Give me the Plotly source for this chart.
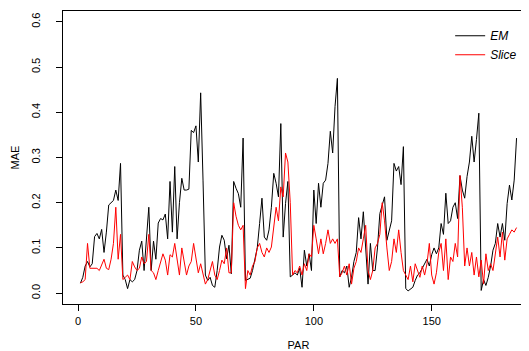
import plotly.graph_objects as go

# ---- data ----
par = list(range(1, 187))

em = [
    0.022, 0.035, 0.06, 0.07, 0.058, 0.065, 0.125, 0.132, 0.12, 0.141,
    0.09, 0.135, 0.195, 0.2, 0.205, 0.228, 0.205, 0.287, 0.04, 0.03,
    0.01, 0.03, 0.025, 0.03, 0.05, 0.095, 0.115, 0.05, 0.12, 0.19,
    0.05, 0.115, 0.075, 0.155, 0.165, 0.162, 0.175, 0.12, 0.247, 0.135,
    0.28, 0.12, 0.2, 0.254, 0.228, 0.228, 0.23, 0.36, 0.355, 0.37,
    0.29, 0.443, 0.25, 0.04, 0.028, 0.035, 0.017, 0.013, 0.05, 0.102,
    0.128, 0.117, 0.076, 0.106, 0.043, 0.247, 0.232, 0.22, 0.19, 0.343,
    0.028, 0.03, 0.033, 0.05, 0.073, 0.1, 0.154, 0.21, 0.124, 0.117,
    0.14, 0.19, 0.265, 0.243, 0.213, 0.375, 0.124, 0.198, 0.247, 0.036,
    0.04, 0.045, 0.04, 0.055, 0.013, 0.095, 0.06, 0.087, 0.05, 0.228,
    0.154, 0.243, 0.19, 0.243, 0.25, 0.287, 0.358, 0.31, 0.413, 0.475,
    0.036, 0.05, 0.045, 0.06, 0.013, 0.035, 0.07, 0.09, 0.167, 0.12,
    0.18, 0.1, 0.02, 0.11, 0.05, 0.05, 0.1, 0.176, 0.198, 0.213,
    0.117, 0.14, 0.16, 0.287, 0.27, 0.28, 0.24, 0.324, 0.01, 0.005,
    0.009, 0.013, 0.028, 0.04, 0.045, 0.055, 0.062, 0.075, 0.06, 0.085,
    0.1, 0.087, 0.1, 0.154, 0.13, 0.221, 0.154, 0.16, 0.19, 0.2,
    0.165, 0.26, 0.228, 0.21, 0.258, 0.29, 0.347, 0.29, 0.34, 0.398,
    0.006, 0.03, 0.017, 0.035, 0.06, 0.095, 0.11, 0.154, 0.124, 0.154,
    0.117, 0.198, 0.239, 0.206, 0.25, 0.343,
]

slice_ = [
    0.023, 0.025, 0.03, 0.11, 0.055, 0.055, 0.055, 0.055, 0.05, 0.065,
    0.075, 0.055, 0.052, 0.075, 0.11, 0.19, 0.075, 0.13, 0.03, 0.035,
    0.04, 0.03, 0.07, 0.058, 0.05, 0.055, 0.08, 0.065, 0.07, 0.13,
    0.05, 0.045, 0.03, 0.05, 0.07, 0.087, 0.073, 0.04, 0.085, 0.08,
    0.11, 0.07, 0.04, 0.1, 0.07, 0.04, 0.06, 0.07, 0.11, 0.075,
    0.045, 0.065, 0.045, 0.02, 0.03, 0.05, 0.07, 0.04, 0.03, 0.05,
    0.073, 0.065, 0.1, 0.045, 0.045, 0.2, 0.17, 0.15, 0.14, 0.15,
    0.01, 0.05, 0.04, 0.06, 0.07, 0.1, 0.11, 0.09, 0.08, 0.1,
    0.09, 0.102, 0.147, 0.19, 0.16, 0.235, 0.213, 0.31, 0.29, 0.2,
    0.04, 0.05, 0.045, 0.06, 0.04, 0.065, 0.05, 0.087, 0.08, 0.15,
    0.12, 0.087, 0.12, 0.087, 0.11, 0.14, 0.11, 0.12, 0.11, 0.12,
    0.036, 0.045, 0.06, 0.04, 0.065, 0.02, 0.055, 0.07, 0.1, 0.09,
    0.12, 0.15, 0.05, 0.03, 0.05, 0.1, 0.11, 0.13, 0.2, 0.16,
    0.1, 0.05, 0.07, 0.12, 0.09, 0.14, 0.09, 0.05, 0.04, 0.03,
    0.06, 0.025, 0.065, 0.05, 0.035, 0.06, 0.04, 0.065, 0.11, 0.04,
    0.02, 0.045, 0.09, 0.11, 0.05, 0.12, 0.03, 0.08, 0.07, 0.11,
    0.08, 0.26, 0.19, 0.06, 0.1, 0.06, 0.09, 0.04, 0.08, 0.036,
    0.073, 0.02, 0.087, 0.05, 0.065, 0.05, 0.087, 0.124, 0.08, 0.135,
    0.073, 0.12, 0.13, 0.14, 0.135, 0.145,
]

x_ticks = [0, 50, 100, 150]
y_ticks = [0.0, 0.1, 0.2, 0.3, 0.4, 0.5, 0.6]
series_names = ["EM", "Slice"]
series_colors = ["#000000", "#ff0000"]

font_family = "Liberation Sans, Arial, sans-serif"

fig = go.Figure()
for name, vals, col in zip(series_names, [em, slice_], series_colors):
    fig.add_trace(go.Scatter(
        x=par, y=vals, mode="lines", name="<i>%s</i>" % name,
        line=dict(color=col, width=1),
    ))

n = len(par)
xpad = (n - 1) * 0.04
ypad = 0.6 * 0.04

axis_common = dict(
    showline=True, linecolor="black", linewidth=1, mirror=True,
    ticks="outside", ticklen=6, tickcolor="black", tickwidth=1,
    showgrid=False, zeroline=False, automargin=False,
    tickfont=dict(family=font_family, size=11, color="black"),
)

fig.update_layout(
    template="none",
    width=529, height=351,
    margin=dict(l=55, r=3, t=3, b=55),
    paper_bgcolor="white", plot_bgcolor="white",
    font=dict(family=font_family, size=11, color="black"),
    xaxis=dict(
        range=[1 - xpad, n + xpad], tickvals=x_ticks,
        ticklabelstandoff=1,
        title=dict(text="PAR", standoff=15,
                   font=dict(family=font_family, size=11, color="black")),
        **axis_common,
    ),
    yaxis=dict(
        range=[0 - ypad, 0.6 + ypad], tickvals=y_ticks, tickformat=".1f",
        tickangle=-90, ticklabelstandoff=12,
        title=dict(text="MAE", standoff=7,
                   font=dict(family=font_family, size=11, color="black")),
        **axis_common,
    ),
    showlegend=True,
    legend=dict(
        x=0.822, y=0.965, xanchor="left", yanchor="top",
        bgcolor="rgba(0,0,0,0)", borderwidth=0,
        font=dict(family=font_family, size=12, color="black"),
        itemwidth=30, tracegroupgap=0,
    ),
)

fig.write_html("out.html")
